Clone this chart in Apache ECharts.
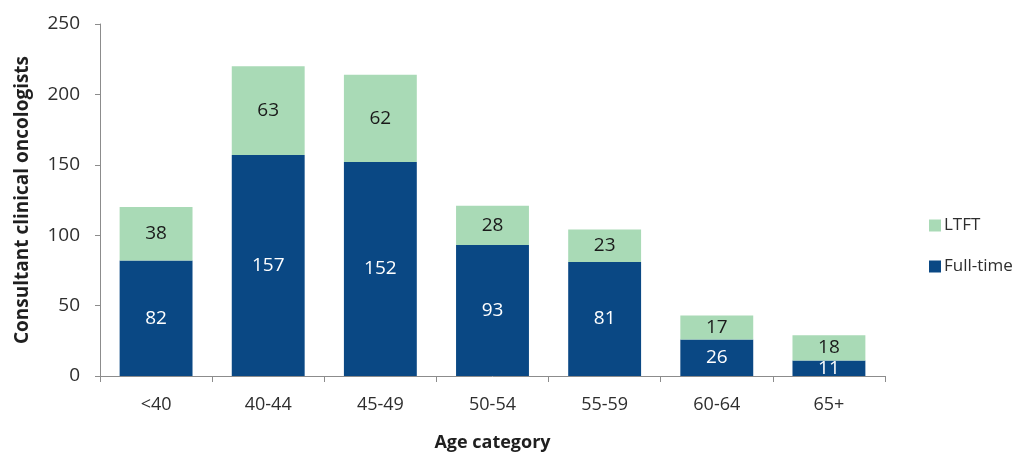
<!DOCTYPE html>
<html>
<head>
<meta charset="utf-8">
<script src="https://cdn.jsdelivr.net/npm/echarts@6/dist/echarts.min.js"></script>
<style>
  html, body { margin: 0; padding: 0; background: #ffffff; }
  #chart { width: 1035px; height: 458px; }
</style>
</head>
<body>
<div id="chart"></div>
<script>
// Consultant clinical oncologists by age band, split by working pattern
const ageCategories = ['<40', '40-44', '45-49', '50-54', '55-59', '60-64', '65+'];
const fullTime = [82, 157, 152, 93, 81, 26, 11];
const ltft = [38, 63, 62, 28, 23, 17, 18];
const yTicks = { min: 0, max: 250, interval: 50 };

const FONT = '"Open Sans", "Noto Sans", sans-serif';
const axisGrey = '#8c8c8c';
const textGrey = '#2e2e2e';

const chart = echarts.init(document.getElementById('chart'), null, { renderer: 'canvas' });

chart.setOption({
  animation: false,
  backgroundColor: '#ffffff',
  textStyle: { fontFamily: FONT },
  grid: { left: 100, right: 150, top: 24, bottom: 82, containLabel: false },
  legend: {
    orient: 'vertical',
    left: 924,
    top: 212,
    itemWidth: 12,
    itemHeight: 12,
    itemGap: 24,
    icon: 'rect',
    data: ['LTFT', 'Full-time'],
    textStyle: { fontFamily: FONT, fontSize: 17, color: textGrey, padding: [0, 0, 0, -2] }
  },
  xAxis: {
    type: 'category',
    data: ageCategories,
    name: 'Age category',
    nameLocation: 'middle',
    nameGap: 58,
    nameTextStyle: { fontFamily: FONT, fontSize: 18, fontWeight: 'bold', color: '#1f1f1f' },
    axisLine: { lineStyle: { color: axisGrey, width: 1 } },
    axisTick: { show: true, length: 6, lineStyle: { color: axisGrey } },
    axisLabel: { fontFamily: FONT, fontSize: 18, color: textGrey, margin: 20 }
  },
  yAxis: {
    type: 'value',
    min: yTicks.min,
    max: yTicks.max,
    interval: yTicks.interval,
    name: 'Consultant clinical oncologists',
    nameLocation: 'middle',
    nameGap: 68,
    nameRotate: 90,
    nameTextStyle: { fontFamily: FONT, fontSize: 19, fontWeight: 'bold', color: '#1f1f1f' },
    axisLine: { show: true, lineStyle: { color: axisGrey, width: 1 } },
    axisTick: { show: true, length: 5, lineStyle: { color: axisGrey } },
    axisLabel: { fontFamily: FONT, fontSize: 19, color: textGrey, margin: 20 },
    splitLine: { show: false }
  },
  series: [
    {
      name: 'Full-time',
      type: 'bar',
      stack: 'total',
      data: fullTime,
      barCategoryGap: '35%',
      itemStyle: { color: '#0a4884' },
      label: {
        show: true,
        position: 'inside',
        fontFamily: FONT,
        fontSize: 19,
        color: '#ffffff'
      }
    },
    {
      name: 'LTFT',
      type: 'bar',
      stack: 'total',
      data: ltft,
      barCategoryGap: '35%',
      itemStyle: { color: '#a9dab6' },
      label: {
        show: true,
        position: 'inside',
        fontFamily: FONT,
        fontSize: 19,
        color: '#1a1a1a'
      }
    }
  ]
});
</script>
</body>
</html>
